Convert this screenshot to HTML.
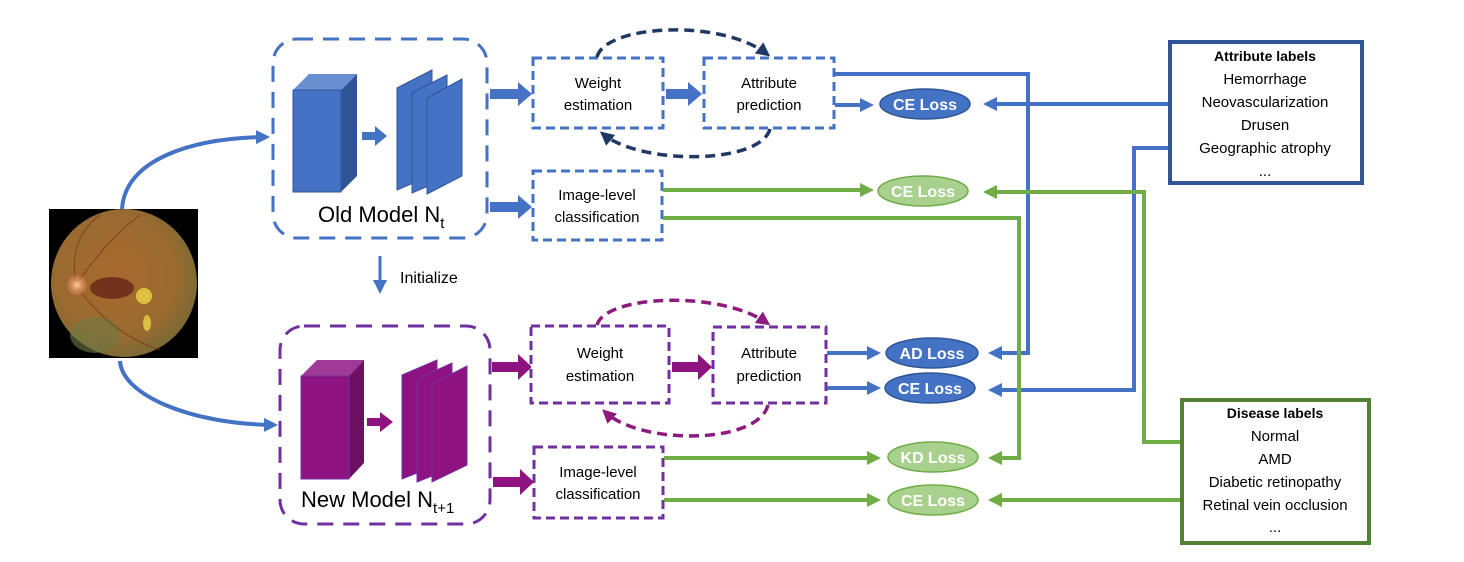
<!DOCTYPE html>
<html><head><meta charset="utf-8"><style>
body{margin:0;background:#fff;}
svg{display:block;font-family:"Liberation Sans",sans-serif;}
</style></head><body>
<svg width="1464" height="562" viewBox="0 0 1464 562" xmlns="http://www.w3.org/2000/svg">
<defs>
<marker id="ag" markerWidth="14" markerHeight="14" refX="10" refY="7" orient="auto" markerUnits="userSpaceOnUse"><path d="M0,0 L14,7 L0,14 z" fill="#70AD47"/></marker>
<marker id="abl" markerWidth="14" markerHeight="14" refX="10" refY="7" orient="auto" markerUnits="userSpaceOnUse"><path d="M0,0 L14,7 L0,14 z" fill="#4472C4"/></marker>
<marker id="an" markerWidth="14" markerHeight="14" refX="10" refY="7" orient="auto" markerUnits="userSpaceOnUse"><path d="M0,0 L14,7 L0,14 z" fill="#203864"/></marker>
<marker id="ap" markerWidth="14" markerHeight="14" refX="10" refY="7" orient="auto" markerUnits="userSpaceOnUse"><path d="M0,0 L14,7 L0,14 z" fill="#8E1A7E"/></marker>
<radialGradient id="eye" cx="45%" cy="45%" r="55%">
<stop offset="0" stop-color="#a8692e"/><stop offset="0.75" stop-color="#9a6a30"/><stop offset="1" stop-color="#7e6a35"/></radialGradient>
<radialGradient id="disc"><stop offset="0" stop-color="#ffd0a0"/><stop offset="1" stop-color="#e0805a" stop-opacity="0.3"/></radialGradient>
</defs>

<!-- fundus -->
<rect x="49" y="209" width="149" height="149" fill="#000"/>
<ellipse cx="124" cy="283" rx="73" ry="74" fill="url(#eye)"/>
<ellipse cx="95" cy="335" rx="25" ry="18" fill="#6f7a45" opacity="0.6"/>
<g stroke="#6e3418" stroke-width="1" fill="none" opacity="0.7">
<path d="M76,285 C100,250 120,230 140,215"/><path d="M76,285 C100,320 130,340 160,350"/><path d="M76,285 C70,250 80,230 100,215"/>
</g>
<circle cx="77" cy="285" r="10" fill="url(#disc)"/>
<ellipse cx="112" cy="288" rx="22" ry="11" fill="#6a2a18" opacity="0.85"/>
<ellipse cx="144" cy="296" rx="8" ry="8" fill="#e0c040"/>
<ellipse cx="147" cy="323" rx="4" ry="8" fill="#d8c040"/>

<!-- curves from fundus -->
<path d="M122,209 C125,160 190,138 266,137" fill="none" stroke="#4472C4" stroke-width="4" marker-end="url(#abl)"/>
<path d="M120,361 C122,395 190,424 274,425" fill="none" stroke="#4472C4" stroke-width="4" marker-end="url(#abl)"/>

<!-- old model -->
<rect x="273" y="39" width="214" height="199" rx="24" fill="none" stroke="#4472C4" stroke-width="3" stroke-dasharray="16,10"/>
<polygon points="293,90 309,74 357,74 341,90" fill="#6A8FD0"/>
<polygon points="341,90 357,74 357,176 341,192" fill="#2F5597"/>
<rect x="293" y="90" width="48" height="102" fill="#4472C4" stroke="#2F5597"/>
<polygon points="362,132 375,132 375,126 387,136 375,146 375,140 362,140" fill="#4472C4"/>
<polygon points="397,88 432,70 432,175 397,190" fill="#4472C4" stroke="#2F5597"/>
<polygon points="412,93 447,75 447,178 412,193" fill="#4472C4" stroke="#2F5597"/>
<polygon points="427,98 462,79 462,176 427,194" fill="#4472C4" stroke="#2F5597"/>
<text x="318" y="222" font-size="22">Old Model N<tspan font-size="15" dy="6">t</tspan></text>

<!-- initialize -->
<line x1="380" y1="256" x2="380" y2="290" stroke="#4472C4" stroke-width="3" marker-end="url(#abl)"/>
<text x="400" y="283" font-size="16">Initialize</text>

<!-- new model -->
<rect x="280" y="326" width="210" height="198" rx="24" fill="none" stroke="#7030A0" stroke-width="3" stroke-dasharray="16,10"/>
<polygon points="301,376 317,360 364,360 349,376" fill="#A03A98"/>
<polygon points="349,376 364,360 364,463 349,479" fill="#6E0F62"/>
<rect x="301" y="376" width="48" height="103" fill="#8E1380" stroke="#7030A0"/>
<polygon points="367,418 380,418 380,412 393,422 380,432 380,426 367,426" fill="#8E1380"/>
<polygon points="402,375 437,360 437,465 402,479" fill="#8E1380" stroke="#7030A0"/>
<polygon points="417,379 452,363 452,468 417,482" fill="#8E1380" stroke="#7030A0"/>
<polygon points="432,384 467,366 467,465 432,482" fill="#8E1380" stroke="#7030A0"/>
<text x="301" y="507" font-size="22">New Model N<tspan font-size="15" dy="6">t+1</tspan></text>

<!-- block arrows old -->
<polygon points="490,89 518,89 518,82 532,94 518,106 518,99 490,99" fill="#4472C4"/>
<polygon points="490,202 518,202 518,195 532,207 518,219 518,212 490,212" fill="#4472C4"/>
<polygon points="666,89 688,89 688,82 702,94 688,106 688,99 666,99" fill="#4472C4"/>
<!-- block arrows new -->
<polygon points="492,362 518,362 518,354 532,367 518,380 518,372 492,372" fill="#8E1380"/>
<polygon points="493,477 520,477 520,469 534,482 520,495 520,487 493,487" fill="#8E1380"/>
<polygon points="672,362 698,362 698,354 712,367 698,380 698,372 672,372" fill="#8E1380"/>

<!-- old boxes -->
<rect x="533" y="58" width="130" height="70" fill="#fff" stroke="#4472C4" stroke-width="3" stroke-dasharray="9,5"/>
<text x="598" y="88" font-size="15" text-anchor="middle">Weight</text>
<text x="598" y="110" font-size="15" text-anchor="middle">estimation</text>
<rect x="704" y="58" width="130" height="70" fill="#fff" stroke="#4472C4" stroke-width="3" stroke-dasharray="9,5"/>
<text x="769" y="88" font-size="15" text-anchor="middle">Attribute</text>
<text x="769" y="110" font-size="15" text-anchor="middle">prediction</text>
<rect x="533" y="171" width="129" height="69" fill="#fff" stroke="#4472C4" stroke-width="3" stroke-dasharray="9,5"/>
<text x="597" y="200" font-size="15" text-anchor="middle">Image-level</text>
<text x="597" y="222" font-size="15" text-anchor="middle">classification</text>

<!-- old loops -->
<path d="M597,57 C605,25 720,18 767,54" fill="none" stroke="#203864" stroke-width="3.5" stroke-dasharray="10,6" marker-end="url(#an)"/>
<path d="M770,129 C760,165 640,165 603,134" fill="none" stroke="#203864" stroke-width="3.5" stroke-dasharray="10,6" marker-end="url(#an)"/>

<!-- new boxes -->
<rect x="531" y="326" width="138" height="77" fill="#fff" stroke="#7030A0" stroke-width="3" stroke-dasharray="9,5"/>
<text x="600" y="358" font-size="15" text-anchor="middle">Weight</text>
<text x="600" y="381" font-size="15" text-anchor="middle">estimation</text>
<rect x="713" y="327" width="113" height="76" fill="#fff" stroke="#7030A0" stroke-width="3" stroke-dasharray="9,5"/>
<text x="769" y="358" font-size="15" text-anchor="middle">Attribute</text>
<text x="769" y="381" font-size="15" text-anchor="middle">prediction</text>
<rect x="534" y="447" width="129" height="71" fill="#fff" stroke="#7030A0" stroke-width="3" stroke-dasharray="9,5"/>
<text x="598" y="477" font-size="15" text-anchor="middle">Image-level</text>
<text x="598" y="499" font-size="15" text-anchor="middle">classification</text>

<!-- new loops -->
<path d="M597,325 C605,295 720,290 767,323" fill="none" stroke="#8E1A7E" stroke-width="3.5" stroke-dasharray="10,6" marker-end="url(#ap)"/>
<path d="M768,405 C758,445 640,445 605,412" fill="none" stroke="#8E1A7E" stroke-width="3.5" stroke-dasharray="10,6" marker-end="url(#ap)"/>

<!-- blue connectors -->
<polyline points="835,74 1028,74 1028,353 1012,353" fill="none" stroke="#4472C4" stroke-width="4"/>
<line x1="1012" y1="353" x2="992" y2="353" stroke="#4472C4" stroke-width="4" marker-end="url(#abl)"/>
<line x1="835" y1="105" x2="870" y2="105" stroke="#4472C4" stroke-width="4" marker-end="url(#abl)"/>
<line x1="1168" y1="104" x2="987" y2="104" stroke="#4472C4" stroke-width="4" marker-end="url(#abl)"/>
<polyline points="1168,148 1134,148 1134,390 1000,390" fill="none" stroke="#4472C4" stroke-width="4"/>
<line x1="1005" y1="390" x2="992" y2="390" stroke="#4472C4" stroke-width="4" marker-end="url(#abl)"/>
<line x1="827" y1="353" x2="877" y2="353" stroke="#4472C4" stroke-width="4" marker-end="url(#abl)"/>
<line x1="827" y1="388" x2="877" y2="388" stroke="#4472C4" stroke-width="4" marker-end="url(#abl)"/>

<!-- green connectors -->
<line x1="663" y1="190" x2="870" y2="190" stroke="#70AD47" stroke-width="4" marker-end="url(#ag)"/>
<polyline points="1180,442 1144,442 1144,192 1000,192" fill="none" stroke="#70AD47" stroke-width="4"/>
<line x1="1005" y1="192" x2="987" y2="192" stroke="#70AD47" stroke-width="4" marker-end="url(#ag)"/>
<polyline points="663,218 1019,218 1019,458 1005,458" fill="none" stroke="#70AD47" stroke-width="4"/>
<line x1="1010" y1="458" x2="992" y2="458" stroke="#70AD47" stroke-width="4" marker-end="url(#ag)"/>
<line x1="664" y1="458" x2="877" y2="458" stroke="#70AD47" stroke-width="4" marker-end="url(#ag)"/>
<line x1="664" y1="500" x2="877" y2="500" stroke="#70AD47" stroke-width="4" marker-end="url(#ag)"/>
<line x1="1180" y1="500" x2="992" y2="500" stroke="#70AD47" stroke-width="4" marker-end="url(#ag)"/>

<!-- loss ellipses -->
<g font-size="16" font-weight="bold" fill="#fff" text-anchor="middle">
<ellipse cx="925" cy="104" rx="45" ry="15" fill="#4472C4" stroke="#2F5597" stroke-width="1.5"/>
<text x="925" y="110">CE Loss</text>
<ellipse cx="923" cy="191" rx="45" ry="15" fill="#A9D18E" stroke="#70AD47" stroke-width="1.5"/>
<text x="923" y="197">CE Loss</text>
<ellipse cx="932" cy="353" rx="46" ry="15" fill="#4472C4" stroke="#2F5597" stroke-width="1.5"/>
<text x="932" y="359">AD Loss</text>
<ellipse cx="930" cy="388" rx="45" ry="15" fill="#4472C4" stroke="#2F5597" stroke-width="1.5"/>
<text x="930" y="394">CE Loss</text>
<ellipse cx="933" cy="457" rx="45" ry="15" fill="#A9D18E" stroke="#70AD47" stroke-width="1.5"/>
<text x="933" y="463">KD Loss</text>
<ellipse cx="933" cy="500" rx="45" ry="15" fill="#A9D18E" stroke="#70AD47" stroke-width="1.5"/>
<text x="933" y="506">CE Loss</text>
</g>

<!-- label boxes -->
<rect x="1170" y="42" width="192" height="141" fill="#fff" stroke="#2F5597" stroke-width="4"/>
<g font-size="15" text-anchor="middle">
<text x="1265" y="61" font-weight="bold" font-size="14">Attribute labels</text>
<text x="1265" y="84">Hemorrhage</text>
<text x="1265" y="107">Neovascularization</text>
<text x="1265" y="130">Drusen</text>
<text x="1265" y="153">Geographic atrophy</text>
<text x="1265" y="176">...</text>
</g>
<rect x="1182" y="400" width="187" height="143" fill="#fff" stroke="#548235" stroke-width="4"/>
<g font-size="15" text-anchor="middle">
<text x="1275" y="418" font-weight="bold" font-size="14">Disease labels</text>
<text x="1275" y="441">Normal</text>
<text x="1275" y="464">AMD</text>
<text x="1275" y="487">Diabetic retinopathy</text>
<text x="1275" y="510">Retinal vein occlusion</text>
<text x="1275" y="532">...</text>
</g>
</svg>
</body></html>
